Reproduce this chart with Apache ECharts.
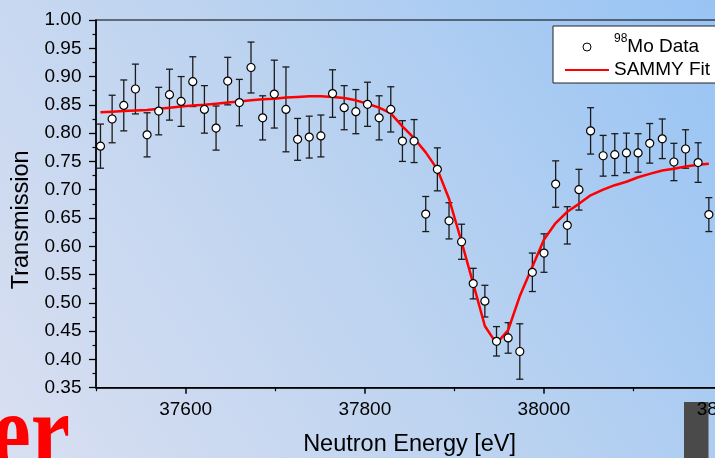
<!DOCTYPE html>
<html>
<head>
<meta charset="utf-8">
<script src="https://cdn.jsdelivr.net/npm/echarts@6/dist/echarts.min.js"></script>
<style>
html, body { margin: 0; padding: 0; }
#chart { width: 715px; height: 458px; }
</style>
</head>
<body>
<div id="chart"></div>
<script>
// measured points, energy in eV
var energies = [37505, 37518, 37531, 37544, 37557, 37570, 37582, 37595, 37608, 37621,
                37634, 37647, 37660, 37673, 37686, 37699, 37712, 37725, 37738, 37751,
                37764, 37777, 37790, 37803, 37816, 37829, 37842, 37855, 37868, 37881,
                37894, 37908, 37921, 37934, 37947, 37960, 37973, 37987, 38000, 38013,
                38026, 38039, 38052, 38066, 38079, 38092, 38105, 38118, 38132, 38145,
                38158, 38172, 38184];
var transmission = [0.777, 0.825, 0.849, 0.878, 0.797, 0.839, 0.868, 0.856, 0.891, 0.842,
                    0.809, 0.892, 0.854, 0.916, 0.827, 0.869, 0.842, 0.789, 0.793, 0.795,
                    0.870, 0.845, 0.838, 0.851, 0.827, 0.842, 0.786, 0.786, 0.657, 0.736,
                    0.645, 0.608, 0.534, 0.503, 0.432, 0.438, 0.414, 0.554, 0.588, 0.710,
                    0.637, 0.700, 0.804, 0.760, 0.762, 0.765, 0.765, 0.782, 0.790, 0.749,
                    0.772, 0.748, 0.656];
// half length of the error bars
var uncertainty = [0.039, 0.042, 0.045, 0.044, 0.039, 0.042, 0.045, 0.044, 0.044, 0.042,
                   0.039, 0.042, 0.041, 0.045, 0.039, 0.060, 0.075, 0.037, 0.037, 0.037,
                   0.042, 0.039, 0.039, 0.039, 0.039, 0.040, 0.036, 0.038, 0.031, 0.038,
                   0.032, 0.031, 0.027, 0.028, 0.026, 0.027, 0.049, 0.034, 0.034, 0.041,
                   0.033, 0.036, 0.041, 0.036, 0.037, 0.035, 0.034, 0.035, 0.035, 0.033,
                   0.034, 0.035, 0.030];
// SAMMY fit evaluated at the same energies
var fitValues = [0.837, 0.838, 0.839, 0.840, 0.841, 0.843, 0.845, 0.847, 0.849, 0.850,
                 0.852, 0.854, 0.856, 0.858, 0.860, 0.861, 0.863, 0.864, 0.865, 0.865,
                 0.864, 0.862, 0.858, 0.852, 0.845, 0.835, 0.812, 0.791, 0.766, 0.736,
                 0.684, 0.608, 0.534, 0.459, 0.428, 0.452, 0.512, 0.564, 0.612, 0.641,
                 0.661, 0.675, 0.690, 0.700, 0.708, 0.714, 0.722, 0.728, 0.734, 0.737,
                 0.741, 0.744, 0.746];
var majorTicks = [37600, 37800, 38000, 38200];
var minorTicks = [37500, 37700, 37900, 38100];

var font = '"Liberation Sans", Arial, sans-serif';

// build the series data from the arrays
var dataPoints = [];
var errorBars = [];
var fitLine = [];
for (var i = 0; i < energies.length; i++) {
    dataPoints.push([energies[i], transmission[i]]);
    errorBars.push([energies[i], transmission[i] - uncertainty[i], transmission[i] + uncertainty[i]]);
    fitLine.push([energies[i], fitValues[i]]);
}

// vertical bar with caps
function renderErrorBar(params, api) {
    var x = api.value(0);
    var low = api.coord([x, api.value(1)]);
    var high = api.coord([x, api.value(2)]);
    var cap = 3.5;
    var style = { stroke: '#1b1b1b', lineWidth: 1.3 };
    return {
        type: 'group',
        children: [
            { type: 'line', shape: { x1: low[0], y1: low[1], x2: high[0], y2: high[1] }, style: style },
            { type: 'line', shape: { x1: low[0] - cap, y1: low[1], x2: low[0] + cap, y2: low[1] }, style: style },
            { type: 'line', shape: { x1: high[0] - cap, y1: high[1], x2: high[0] + cap, y2: high[1] }, style: style }
        ]
    };
}

var chart = echarts.init(document.getElementById('chart'));

var option = {
    animation: false,
    backgroundColor: {
        type: 'linear', x: 0, y: 1, x2: 1, y2: 0,
        colorStops: [
            { offset: 0, color: '#d9dff1' },
            { offset: 0.5, color: '#bcd3f0' },
            { offset: 1, color: '#98c4f4' }
        ]
    },
    textStyle: { fontFamily: font },
    grid: {
        left: 96, right: -8.2, top: 20, bottom: 70.3,
        show: true, borderColor: '#000', borderWidth: 1.2, backgroundColor: 'transparent',
        outerBoundsMode: 'none'
    },
    // slide pieces that sit behind the chart
    graphic: [
        { type: 'rect', z: -1, silent: true, shape: { x: 684, y: 402, width: 24.5, height: 60 }, style: { fill: '#4a4a4a' } },
        { type: 'text', z: -1, silent: true, x: 70, y: 501, scaleX: 0.75,
          style: { text: 'er', fill: '#ff0000', font: 'bold 118px "Liberation Serif", serif', align: 'right', verticalAlign: 'bottom' } }
    ],
    legend: {
        data: [
            { name: '98Mo Data', itemStyle: { color: '#fff', borderColor: '#000', borderWidth: 1 } },
            { name: 'SAMMY Fit', itemStyle: { opacity: 0 } }
        ],
        orient: 'vertical',
        left: 553, top: 26,
        padding: [7, 16, 3.5, 11],
        itemGap: 4,
        itemWidth: 44, itemHeight: 8,
        backgroundColor: '#fff', borderColor: '#222', borderWidth: 1, borderRadius: 0,
        selectedMode: false,
        formatter: function (name) {
            return name === '98Mo Data' ? '{sup|98}{txt|Mo Data}' : '{txt|' + name + '}';
        },
        textStyle: {
            color: '#000', fontSize: 19, fontFamily: font,
            rich: {
                txt: { fontSize: 19, lineHeight: 28, color: '#000', fontFamily: font },
                sup: { fontSize: 12, lineHeight: 12, verticalAlign: 'top', color: '#000', fontFamily: font }
            }
        }
    },
    xAxis: [{
        type: 'value', min: 37500, max: 38200,
        name: 'Neutron Energy [eV]', nameLocation: 'middle', nameGap: 45,
        nameTextStyle: { fontSize: 23.5, color: '#000', fontFamily: font },
        axisLine: { show: true, lineStyle: { color: '#000', width: 1.5 } },
        axisTick: { show: true, inside: false, customValues: majorTicks, length: 6, lineStyle: { color: '#000', width: 1.5 } },
        axisLabel: {
            customValues: majorTicks, fontSize: 19, color: '#000', margin: 13, fontFamily: font,
            formatter: function (v) { return String(v); }
        },
        splitLine: { show: false }
    }, {
        // second axis only for the short ticks, moved down onto the bottom edge
        type: 'value', min: 37500, max: 38200, position: 'top', offset: -367.7,
        axisLine: { show: false },
        axisTick: { show: true, inside: true, customValues: minorTicks, length: 3.5, lineStyle: { color: '#000', width: 1.2 } },
        axisLabel: { show: false },
        splitLine: { show: false }
    }],
    yAxis: {
        type: 'value', min: 0.35, max: 1.0, interval: 0.05,
        name: 'Transmission', nameLocation: 'middle', nameGap: 57,
        nameTextStyle: { fontSize: 23.5, color: '#000', fontFamily: font, padding: [0, 32, 0, 0] },
        axisLine: { show: true, lineStyle: { color: '#000', width: 1.5 } },
        axisTick: { show: true, inside: false, length: 7, lineStyle: { color: '#000', width: 1.3 } },
        minorTick: { show: true, splitNumber: 2, length: 3.5, lineStyle: { color: '#000', width: 1.2 } },
        axisLabel: {
            fontSize: 19, color: '#000', margin: 14.5, fontFamily: font,
            formatter: function (v) { return v.toFixed(2); }
        },
        splitLine: { show: false }
    },
    series: [{
        name: 'errors',
        type: 'custom',
        xAxisIndex: 0,
        renderItem: renderErrorBar,
        encode: { x: 0, y: [1, 2] },
        data: errorBars,
        z: 2
    }, {
        name: 'SAMMY Fit',
        type: 'line',
        xAxisIndex: 0,
        data: fitLine,
        symbol: 'none',
        showSymbol: false,
        lineStyle: { color: '#ff0000', width: 2.5 },
        itemStyle: { color: '#ff0000' },
        z: 3
    }, {
        name: '98Mo Data',
        type: 'scatter',
        xAxisIndex: 0,
        data: dataPoints,
        symbol: 'circle',
        symbolSize: 8,
        itemStyle: { color: '#fff', borderColor: '#000', borderWidth: 1.2, opacity: 1 },
        z: 4
    }]
};

chart.setOption(option);
</script>
</body>
</html>
